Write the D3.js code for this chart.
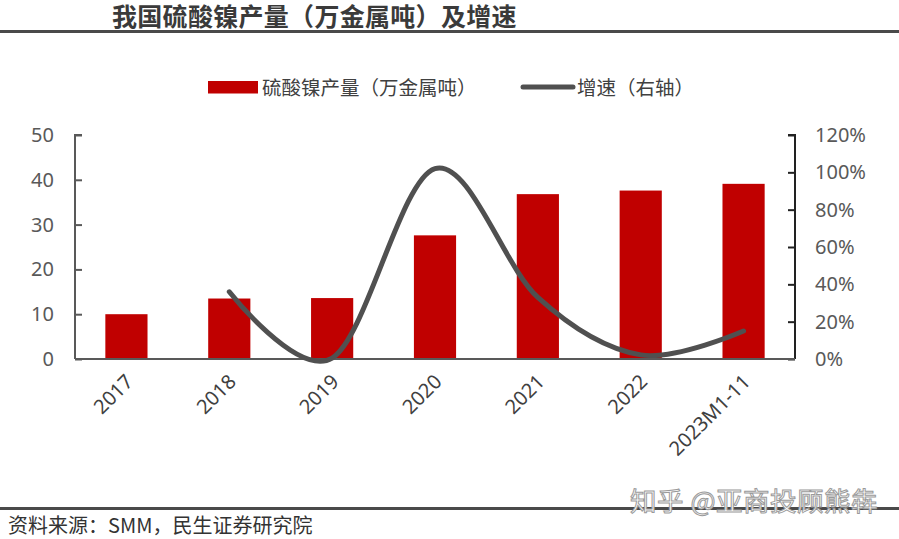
<!DOCTYPE html>
<html>
<head>
<meta charset="utf-8">
<script src="https://cdn.jsdelivr.net/npm/d3@7"></script>
<style>
  body { margin: 0; background: #fff; }
  svg { display: block; font-family: "Noto Sans CJK SC", "Noto Sans", sans-serif; }
</style>
</head>
<body>
<svg id="chart" width="899" height="539"></svg>
<script>
// data
const years   = ['2017', '2018', '2019', '2020', '2021', '2022', '2023M1-11'];
const output  = [10.0, 13.5, 13.6, 27.6, 36.8, 37.6, 39.1];   // 万金属吨
const growth  = [null, 0.36, 0.005, 1.02, 0.33, 0.022, 0.15]; // right axis
const leftTicks  = [0, 10, 20, 30, 40, 50];
const rightTicks = [0, 0.2, 0.4, 0.6, 0.8, 1.0, 1.2];

const svg = d3.select('#chart');
const W = 899;
const m = { left: 75, right: 795, top: 135, bottom: 359 };
const tickFont = '"Noto Sans", "Noto Sans CJK SC", sans-serif';

const x  = d3.scaleBand().domain(years).range([m.left, m.right]).paddingInner(0.59).paddingOuter(0.295);
const yL = d3.scaleLinear().domain([0, 50]).range([m.bottom, m.top]);
const yR = d3.scaleLinear().domain([0, 1.2]).range([m.bottom, m.top]);

// title + rules
svg.append('text')
  .attr('x', 112).attr('y', 26)
  .attr('font-size', 25).attr('font-weight', 'bold').attr('fill', '#3a3a3a')
  .attr('letter-spacing', 0.3)
  .text('我国硫酸镍产量（万金属吨）及增速');
svg.append('line').attr('x1', 0).attr('x2', W).attr('y1', 31.5).attr('y2', 31.5)
  .attr('stroke', '#4a4a4a').attr('stroke-width', 3);
svg.append('line').attr('x1', 0).attr('x2', W).attr('y1', 508.5).attr('y2', 508.5)
  .attr('stroke', '#4a4a4a').attr('stroke-width', 3);

svg.append('text')
  .attr('x', 8).attr('y', 533)
  .attr('font-size', 20).attr('fill', '#333')
  .text('资料来源：SMM，民生证券研究院');

// watermark
svg.append('text')
  .attr('x', 630).attr('y', 511)
  .attr('font-size', 26.5).attr('fill', '#fff')
  .attr('stroke', '#9a9a9a').attr('stroke-width', 1)
  .attr('letter-spacing', 0.5)
  .text('知乎 @亚商投顾熊犇');

// legend
const lg = svg.append('g').attr('font-size', 19.5).attr('fill', '#404040');
lg.append('rect').attr('x', 208).attr('y', 81).attr('width', 50).attr('height', 12.5).attr('fill', '#C00000');
lg.append('text').attr('x', 262).attr('y', 94.5).text('硫酸镍产量（万金属吨）');
lg.append('line').attr('x1', 523).attr('x2', 573).attr('y1', 87).attr('y2', 87)
  .attr('stroke', '#505050').attr('stroke-width', 5).attr('stroke-linecap', 'round');
lg.append('text').attr('x', 577).attr('y', 94.5).text('增速（右轴）');

// bars
svg.append('g').selectAll('rect')
  .data(years)
  .join('rect')
  .attr('x', d => x(d))
  .attr('width', x.bandwidth())
  .attr('y', (d, i) => yL(output[i]))
  .attr('height', (d, i) => yL(0) - yL(output[i]))
  .attr('fill', '#C00000');

// axes
const axL = svg.append('g')
  .attr('transform', `translate(${m.left},0)`)
  .call(d3.axisLeft(yL).tickValues(leftTicks).tickSize(-7).tickPadding(21));
axL.select('.domain').attr('stroke', '#595959').attr('stroke-width', 2).attr('d', `M7,${m.top}H0V${m.bottom}`);
axL.selectAll('.tick line').attr('stroke', '#595959').attr('stroke-width', 2);
axL.selectAll('.tick text').attr('font-size', 20).attr('fill', '#595959').attr('font-family', tickFont);

const axR = svg.append('g')
  .attr('transform', `translate(${m.right},0)`)
  .call(d3.axisRight(yR).tickValues(rightTicks).tickSize(-7).tickPadding(20).tickFormat(d3.format('.0%')));
axR.select('.domain').attr('stroke', '#222').attr('stroke-width', 2).attr('d', `M-7,${m.top}H0V${m.bottom}`);
axR.selectAll('.tick line').attr('stroke', '#222').attr('stroke-width', 2);
axR.selectAll('.tick text').attr('font-size', 20).attr('fill', '#595959').attr('font-family', tickFont);

const axB = svg.append('g')
  .attr('transform', `translate(0,${m.bottom})`)
  .call(d3.axisBottom(x).tickSize(0).tickPadding(0));
axB.select('.domain').attr('stroke', '#595959').attr('stroke-width', 2).attr('d', `M${m.left},0H${m.right}`);
axB.selectAll('.tick text')
  .attr('font-size', 20).attr('fill', '#404040')
  .attr('font-family', tickFont)
  .attr('text-anchor', 'end')
  .attr('dy', 0)
  .attr('transform', 'translate(8,24) rotate(-45)');

// growth line
const pts = years.map((d, i) => [x(d) + x.bandwidth() / 2, growth[i]]).filter(p => p[1] != null);
svg.append('path')
  .datum(pts)
  .attr('fill', 'none')
  .attr('stroke', '#505050')
  .attr('stroke-width', 5)
  .attr('stroke-linecap', 'round')
  .attr('d', d3.line().x(p => p[0]).y(p => yR(p[1])).curve(d3.curveCatmullRom.alpha(0)));
</script>
</body>
</html>
